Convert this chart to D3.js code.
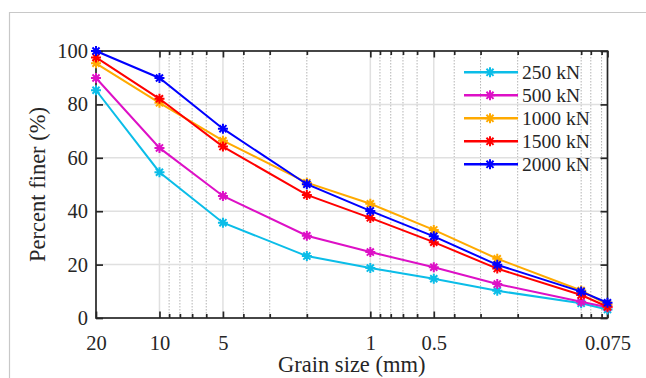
<!DOCTYPE html>
<html>
<head>
<meta charset="utf-8">
<script src="https://cdn.jsdelivr.net/npm/d3@7"></script>
<style>
  html, body { margin: 0; padding: 0; background: #fff; }
  svg { display: block; }
  svg text { font-family: "Liberation Serif", "Times New Roman", serif !important; fill: #262626; }
</style>
</head>
<body>
<svg id="chart" width="646" height="378"></svg>
<script>
// Data
const grainSizes = [20, 10, 5, 2, 1, 0.5, 0.25, 0.1, 0.075];
const seriesNames = ["250 kN", "500 kN", "1000 kN", "1500 kN", "2000 kN"];
const seriesColors = ["#0bbde8", "#dd10c6", "#ffaa00", "#ff0000", "#0000ff"];
const values250 = [85.3, 54.6, 35.7, 23.2, 18.7, 14.7, 10.2, 5.5, 3.2];
const values500 = [89.9, 63.7, 45.7, 30.8, 24.7, 19.0, 12.7, 6.1, 4.0];
const values1000 = [95.4, 80.6, 66.4, 50.7, 42.8, 33.0, 22.2, 10.3, 5.0];
const values1500 = [97.6, 82.1, 64.2, 46.1, 37.5, 28.4, 18.5, 8.6, 4.2];
const values2000 = [100, 89.9, 70.9, 50.1, 40.1, 30.6, 19.9, 9.9, 5.7];
const allValues = [values250, values500, values1000, values1500, values2000];
const xTickValues = [20, 10, 5, 1, 0.5, 0.075];
const xTickLabels = ["20", "10", "5", "1", "0.5", "0.075"];
const xMinorValues = [9, 8, 7, 6, 4, 3, 2, 0.9, 0.8, 0.7, 0.6, 0.4, 0.3, 0.2, 0.1, 0.09, 0.08];
const yTickValues = [0, 20, 40, 60, 80, 100];
const yGridValues = [20, 40, 60, 80];

const svg = d3.select("#chart");
const L = 96, R = 607.5, T = 51, B = 318;
const serif = '"Liberation Serif", "Times New Roman", serif';

const x = d3.scaleLog().domain([20, 0.075]).range([L, R]);
const y = d3.scaleLinear().domain([0, 100]).range([B, T]);

// figure frame
svg.append("path").attr("d", `M9.5,378 V12.5 H646`).attr("fill", "none")
  .attr("stroke", "#c8c8c8").attr("stroke-width", 1.2);

// grid
const grid = svg.append("g");
grid.selectAll(".gmin").data(xMinorValues).join("line")
  .attr("x1", d => x(d)).attr("x2", d => x(d)).attr("y1", T).attr("y2", B)
  .attr("stroke", "#b4b4b4").attr("stroke-width", 1).attr("stroke-dasharray", "1.5,1.5");
grid.selectAll(".gmaj").data(xTickValues.slice(1, -1)).join("line")
  .attr("x1", d => x(d)).attr("x2", d => x(d)).attr("y1", T).attr("y2", B)
  .attr("stroke", "#e0e0e0").attr("stroke-width", 1.5);
grid.selectAll(".gy").data(yGridValues).join("line")
  .attr("x1", L).attr("x2", R).attr("y1", d => y(d)).attr("y2", d => y(d))
  .attr("stroke", "#e0e0e0").attr("stroke-width", 1.5);

// axes with inward ticks
const axCol = "#262626";
const xb = svg.append("g").attr("transform", `translate(0,${B})`)
  .call(d3.axisBottom(x).tickValues(xTickValues).tickFormat((d, i) => xTickLabels[i]).tickSize(-6.5).tickPadding(17));
const xbm = svg.append("g").attr("transform", `translate(0,${B})`)
  .call(d3.axisBottom(x).tickValues(xMinorValues).tickFormat("").tickSize(-4));
const xt = svg.append("g").attr("transform", `translate(0,${T})`)
  .call(d3.axisTop(x).tickValues(xTickValues).tickFormat("").tickSize(-6.5));
const xtm = svg.append("g").attr("transform", `translate(0,${T})`)
  .call(d3.axisTop(x).tickValues(xMinorValues).tickFormat("").tickSize(-4));
const yl = svg.append("g").attr("transform", `translate(${L},0)`)
  .call(d3.axisLeft(y).tickValues(yTickValues).tickSize(-7).tickPadding(8));
const yr = svg.append("g").attr("transform", `translate(${R},0)`)
  .call(d3.axisRight(y).tickValues(yTickValues).tickFormat("").tickSize(-7));
[xb, xbm, xt, xtm, yl, yr].forEach(g => {
  g.attr("font-family", serif).attr("font-size", 20.5);
  g.select(".domain").remove();
  g.selectAll("line").attr("stroke", axCol).attr("stroke-width", 1.7);
  g.selectAll("text").attr("font-size", 20.5).attr("fill", axCol).attr("font-family", serif);
});
xb.selectAll("text").attr("dy", "0.71em");
// box
svg.append("rect").attr("x", L).attr("y", T).attr("width", R - L).attr("height", B - T)
  .attr("fill", "none").attr("stroke", axCol).attr("stroke-width", 1.7);

// asterisk marker path
function starPath(r) {
  const d = r * Math.SQRT1_2;
  return `M${-r},0H${r}M0,${-r}V${r}M${-d},${-d}L${d},${d}M${-d},${d}L${d},${-d}`;
}

const line = d3.line().x((d, i) => x(grainSizes[i])).y(d => y(d));
const plot = svg.append("g");
allValues.forEach((vals, s) => {
  const g = plot.append("g");
  g.append("path").attr("d", line(vals)).attr("fill", "none")
    .attr("stroke", seriesColors[s]).attr("stroke-width", 2);
  g.selectAll("path.m").data(vals).join("path").attr("class", "m")
    .attr("transform", (d, i) => `translate(${x(grainSizes[i])},${y(d)})`)
    .attr("d", starPath(5)).attr("fill", "none")
    .attr("stroke", seriesColors[s]).attr("stroke-width", 2);
});

// legend
const leg = svg.append("g");
seriesNames.forEach((name, i) => {
  const yy = 72.3 + i * 23;
  leg.append("line").attr("x1", 464).attr("x2", 518).attr("y1", yy).attr("y2", yy)
    .attr("stroke", seriesColors[i]).attr("stroke-width", 2.5);
  leg.append("path").attr("transform", `translate(490,${yy})`).attr("d", starPath(5))
    .attr("fill", "none").attr("stroke", seriesColors[i]).attr("stroke-width", 2);
  leg.append("text").attr("x", 522).attr("y", yy).attr("dy", "0.35em")
    .attr("font-size", 19.5).attr("font-family", serif).text(name);
});

// axis labels
svg.append("text").attr("x", (L + R) / 2).attr("y", 372).attr("text-anchor", "middle")
  .attr("font-size", 22.5).attr("font-family", serif).text("Grain size (mm)");
svg.append("text").attr("transform", `translate(45,${(T + B) / 2}) rotate(-90)`)
  .attr("text-anchor", "middle").attr("font-size", 22.5).attr("font-family", serif).text("Percent finer (%)");
</script>
</body>
</html>
